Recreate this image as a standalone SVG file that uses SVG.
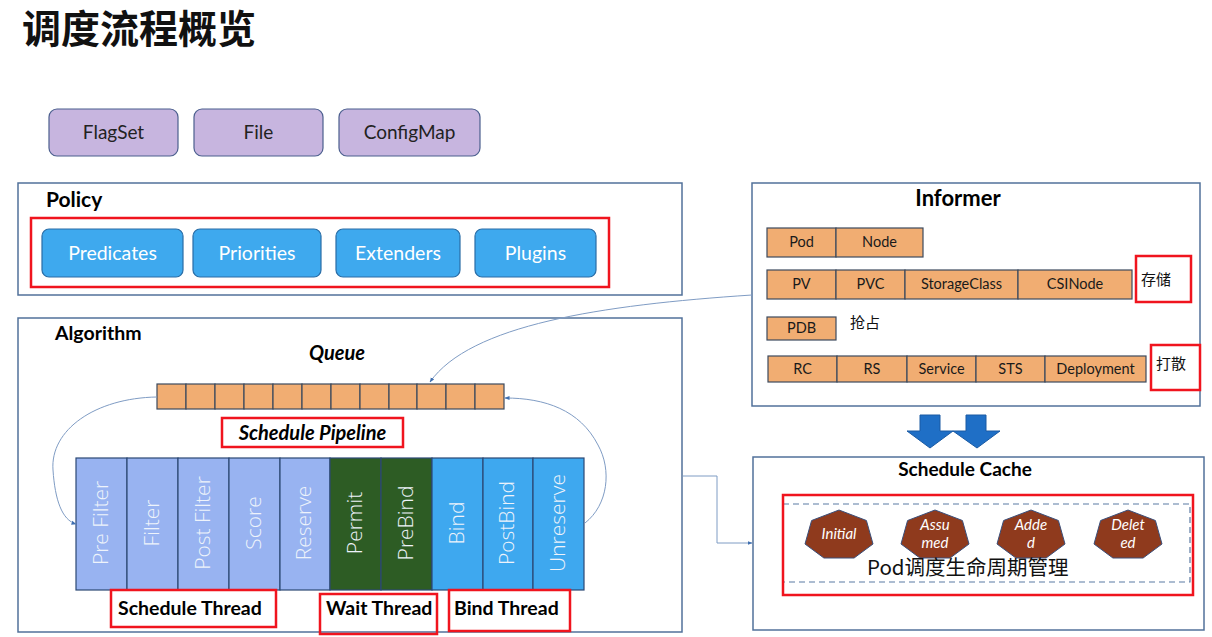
<svg xmlns="http://www.w3.org/2000/svg" width="1212" height="637" viewBox="0 0 1212 637">
  <defs>
    <style>
      .title { font-family: "Noto Sans CJK SC", sans-serif; font-size: 39px; font-weight: 600; fill: #111; }
      .frame { fill: #fff; stroke: #52719a; stroke-width: 1.5; }
      .hdr { font-family: Lato, "Liberation Sans", sans-serif; font-weight: 700; fill: #000; }
      .src { fill: #c7b5df; stroke: #4b5f8e; stroke-width: 1.2; }
      .srct { font-family: Lato, "Liberation Sans", sans-serif; font-size: 19px; fill: #222; text-anchor: middle; }
      .btn { fill: #3ea9ee; stroke: #2a6da6; stroke-width: 1.2; }
      .btnt { font-family: Lato, "Liberation Sans", sans-serif; font-size: 19.5px; fill: #fff; text-anchor: middle; }
      .hl { fill: none; stroke: #f0141e; stroke-width: 2.5; }
      .cell { fill: #f1ad72; stroke: #3c4a5e; stroke-width: 1.2; }
      .cellt { font-family: Lato, "Liberation Sans", sans-serif; font-size: 14.5px; fill: #1a1a1a; text-anchor: middle; }
      .cjk { font-family: "Noto Sans CJK SC", sans-serif; font-size: 15px; fill: #111; }
      .stage { stroke: #2c4874; stroke-width: 1.2; }
      .stt { font-family: "Open Sans", "Noto Sans", sans-serif; font-weight: 300; font-size: 21px; fill: #eef3fb; text-anchor: middle; }
      .thr { font-family: Lato, "Liberation Sans", sans-serif; font-weight: 700; font-size: 19.5px; fill: #000; }
      .hept { fill: #8f3a1d; stroke: #3b4f7a; stroke-width: 1; }
      .ht { font-family: Lato, "Liberation Sans", sans-serif; font-style: italic; font-size: 15px; fill: #fff; text-anchor: middle; }
      .wire { fill: none; stroke: #7f9cc4; stroke-width: 1; }
      .bigarrow { fill: #1f6fc6; stroke: #1a5aa3; stroke-width: 1; }
    </style>
    <marker id="tip" viewBox="0 0 10 10" refX="9" refY="5" markerWidth="5" markerHeight="5" orient="auto">
      <path d="M0,1 L10,5 L0,9 z" fill="#3f6fb0"/>
    </marker>
  </defs>

  <rect width="1212" height="637" fill="#fff"/>

  <text class="title" x="22" y="43">调度流程概览</text>

  <!-- configuration sources -->
  <g id="flagset"><rect class="src" x="49" y="109" width="129" height="47" rx="8"/><text class="srct" x="113.5" y="139">FlagSet</text></g>
  <g id="file"><rect class="src" x="194" y="109" width="129" height="47" rx="8"/><text class="srct" x="258.5" y="139">File</text></g>
  <g id="configmap"><rect class="src" x="339" y="109" width="141" height="47" rx="8"/><text class="srct" x="409.5" y="139">ConfigMap</text></g>

  <!-- Policy -->
  <g id="policy">
    <rect class="frame" x="18" y="183" width="664" height="112"/>
    <text class="hdr" x="46" y="207" font-size="21">Policy</text>
    <rect class="hl" x="31" y="218" width="578" height="69"/>
    <rect class="btn" x="42" y="229" width="141" height="48" rx="7"/><text class="btnt" x="112.5" y="260">Predicates</text>
    <rect class="btn" x="193" y="229" width="128" height="48" rx="7"/><text class="btnt" x="257" y="260">Priorities</text>
    <rect class="btn" x="336" y="229" width="124" height="48" rx="7"/><text class="btnt" x="398" y="260">Extenders</text>
    <rect class="btn" x="475" y="229" width="121" height="48" rx="7"/><text class="btnt" x="535.5" y="260">Plugins</text>
  </g>

  <!-- Algorithm -->
  <g id="algorithm">
    <rect class="frame" x="18" y="318" width="664" height="314"/>
    <text class="hdr" x="55" y="340" font-size="19.5">Algorithm</text>
  </g>

  <g id="queue">
    <text class="hdr" x="337" y="360" font-size="20" font-style="italic" text-anchor="middle">Queue</text>
    <rect class="cell" x="157" y="384" width="29" height="25"/>
    <rect class="cell" x="186" y="384" width="29" height="25"/>
    <rect class="cell" x="215" y="384" width="29" height="25"/>
    <rect class="cell" x="244" y="384" width="29" height="25"/>
    <rect class="cell" x="273" y="384" width="29" height="25"/>
    <rect class="cell" x="302" y="384" width="29" height="25"/>
    <rect class="cell" x="331" y="384" width="29" height="25"/>
    <rect class="cell" x="360" y="384" width="29" height="25"/>
    <rect class="cell" x="389" y="384" width="28" height="25"/>
    <rect class="cell" x="417" y="384" width="29" height="25"/>
    <rect class="cell" x="446" y="384" width="29" height="25"/>
    <rect class="cell" x="475" y="384" width="29" height="25"/>
  </g>

  <g id="schedule-pipeline">
    <rect class="hl" x="222" y="418" width="181" height="29"/>
    <text class="hdr" x="312.5" y="440" font-size="20" font-style="italic" text-anchor="middle">Schedule Pipeline</text>
  </g>

  <!-- extension points -->
  <g id="stages">
    <rect class="stage" x="76" y="458" width="51" height="132" fill="#98b3f1"/>
    <rect class="stage" x="127" y="458" width="51" height="132" fill="#98b3f1"/>
    <rect class="stage" x="178" y="458" width="51" height="132" fill="#98b3f1"/>
    <rect class="stage" x="229" y="458" width="51" height="132" fill="#98b3f1"/>
    <rect class="stage" x="280" y="458" width="50" height="132" fill="#98b3f1"/>
    <rect class="stage" x="330" y="458" width="51" height="132" fill="#2d5c24"/>
    <rect class="stage" x="381" y="458" width="51" height="132" fill="#2d5c24"/>
    <rect class="stage" x="432" y="458" width="51" height="132" fill="#3ea8ef"/>
    <rect class="stage" x="483" y="458" width="50" height="132" fill="#3ea8ef"/>
    <rect class="stage" x="533" y="458" width="51" height="132" fill="#3ea8ef"/>
    <text class="stt" transform="translate(108,523) rotate(-90)">Pre Filter</text>
    <text class="stt" transform="translate(159,523) rotate(-90)">Filter</text>
    <text class="stt" transform="translate(210,523) rotate(-90)">Post Filter</text>
    <text class="stt" transform="translate(261,523) rotate(-90)">Score</text>
    <text class="stt" transform="translate(311,523) rotate(-90)">Reserve</text>
    <text class="stt" transform="translate(362,523) rotate(-90)">Permit</text>
    <text class="stt" transform="translate(413,523) rotate(-90)">PreBind</text>
    <text class="stt" transform="translate(464,523) rotate(-90)">Bind</text>
    <text class="stt" transform="translate(514,523) rotate(-90)">PostBind</text>
    <text class="stt" transform="translate(565,523) rotate(-90)">Unreserve</text>
  </g>

  <g id="schedule-thread"><rect class="hl" x="111" y="590" width="165" height="37"/><text class="thr" x="118" y="615">Schedule Thread</text></g>
  <g id="wait-thread"><rect class="hl" x="320" y="594" width="117" height="40"/><text class="thr" x="326" y="615">Wait Thread</text></g>
  <g id="bind-thread"><rect class="hl" x="449" y="590" width="121" height="41"/><text class="thr" x="454" y="615">Bind Thread</text></g>

  <!-- Informer -->
  <g id="informer">
    <rect class="frame" x="752" y="183" width="448" height="223"/>
    <text class="hdr" x="958" y="206" font-size="22" text-anchor="middle">Informer</text>
    <rect class="cell" x="767" y="228" width="69" height="29"/><text class="cellt" x="801.5" y="247">Pod</text>
    <rect class="cell" x="836" y="228" width="87" height="29"/><text class="cellt" x="879.5" y="247">Node</text>

    <rect class="cell" x="767" y="270" width="69" height="29"/><text class="cellt" x="801.5" y="289">PV</text>
    <rect class="cell" x="836" y="270" width="69" height="29"/><text class="cellt" x="870.5" y="289">PVC</text>
    <rect class="cell" x="905" y="270" width="113" height="29"/><text class="cellt" x="961.5" y="289">StorageClass</text>
    <rect class="cell" x="1018" y="270" width="114" height="29"/><text class="cellt" x="1075" y="289">CSINode</text>
    <rect class="hl" x="1136" y="256" width="55" height="46"/>
    <text class="cjk" x="1141" y="285">存储</text>

    <rect class="cell" x="767" y="317" width="69" height="23"/><text class="cellt" x="801.5" y="333">PDB</text>
    <text class="cjk" x="850" y="328">抢占</text>

    <rect class="cell" x="768" y="356" width="69" height="26"/><text class="cellt" x="802.5" y="374">RC</text>
    <rect class="cell" x="837" y="356" width="70" height="26"/><text class="cellt" x="872" y="374">RS</text>
    <rect class="cell" x="907" y="356" width="69" height="26"/><text class="cellt" x="941.5" y="374">Service</text>
    <rect class="cell" x="976" y="356" width="69" height="26"/><text class="cellt" x="1010.5" y="374">STS</text>
    <rect class="cell" x="1045" y="356" width="101" height="26"/><text class="cellt" x="1095.5" y="374">Deployment</text>
    <rect class="hl" x="1151" y="345" width="49" height="45"/>
    <text class="cjk" x="1156" y="369">打散</text>
  </g>

  <!-- informer feeds the cache -->
  <g id="feed-arrows">
    <path class="bigarrow" d="M920,415 H940 V431 H953 L930,448 L907,431 H920 Z"/>
    <path class="bigarrow" d="M966,415 H986 V431 H1000 L977,448 L953,431 H966 Z"/>
  </g>

  <!-- Schedule Cache -->
  <g id="schedule-cache">
    <rect class="frame" x="753" y="457" width="451" height="173"/>
    <text class="hdr" x="965" y="476" font-size="19" text-anchor="middle">Schedule Cache</text>
    <rect x="783" y="504" width="407" height="78" fill="none" stroke="#5a7aa3" stroke-width="1.2" stroke-dasharray="6,4"/>
    <rect class="hl" x="783" y="495" width="410" height="100"/>
  </g>

  <g id="pod-initial">
    <polygon class="hept" points="805,544 811.6,520.5 839,510 866.4,520.5 873,544 854.1,558 823.9,558"/>
    <text class="ht" x="839" y="539">Initial</text>
  </g>
  <g id="pod-assumed">
    <polygon class="hept" points="901,544 907.6,520.5 935,510 962.4,520.5 969,544 950.1,558 919.9,558"/>
    <text class="ht" x="935" y="530">Assu</text><text class="ht" x="935" y="548">med</text>
  </g>
  <g id="pod-added">
    <polygon class="hept" points="997,544 1003.6,520.5 1031,510 1058.4,520.5 1065,544 1046.1,558 1015.9,558"/>
    <text class="ht" x="1031" y="530">Adde</text><text class="ht" x="1031" y="548">d</text>
  </g>
  <g id="pod-deleted">
    <polygon class="hept" points="1094,544 1100.6,520.5 1128,510 1155.4,520.5 1162,544 1143.1,558 1112.9,558"/>
    <text class="ht" x="1128" y="530">Delet</text><text class="ht" x="1128" y="548">ed</text>
  </g>
  <text x="867" y="575" font-family="'Noto Sans CJK SC', sans-serif" font-size="20.5" fill="#111">Pod调度生命周期管理</text>

  <!-- connectors -->
  <g id="connectors">
    <path class="wire" d="M752,295 C600,305 470,325 430,382" marker-end="url(#tip)"/>
    <path class="wire" d="M157,397 C95,398 50,430 53,470 C55,500 62,520 76,524" marker-end="url(#tip)"/>
    <path class="wire" d="M585,523 C608,505 612,470 598,445 C580,410 545,398 505,398" marker-end="url(#tip)"/>
    <path class="wire" d="M683,476 H717 V543 H752" stroke="#b9cde6" marker-end="url(#tip)"/>
  </g>
</svg>
